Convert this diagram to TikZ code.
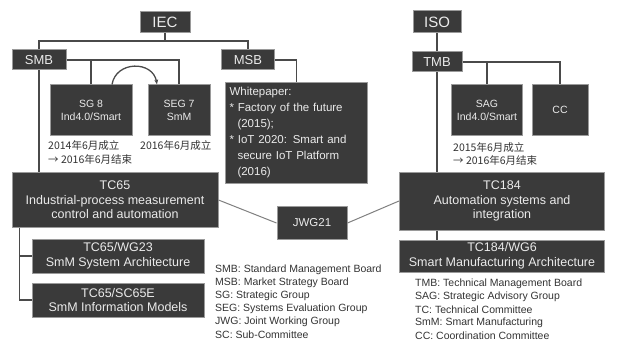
\documentclass[tikz,border=0pt]{standalone}
\usepackage{fontspec}
\setmainfont{Liberation Sans}
\newfontfamily\cjk{Noto Sans CJK SC}
\usetikzlibrary{arrows.meta}
\definecolor{boxfill}{HTML}{3A3A3A}
\definecolor{boxedge}{HTML}{9A9A9A}
\definecolor{linecol}{HTML}{4A4A4A}
\begin{document}
\begin{tikzpicture}[x=1pt,y=-1pt,
  dbox/.style={draw=boxedge, line width=1pt, fill=boxfill, text=white!92!black,
    inner sep=1pt, align=center, font=\fontsize{10.5}{13}\selectfont},
  tcbox/.style={dbox, font=\fontsize{12.5}{14.5}\selectfont},
  conn/.style={draw=linecol, line width=1.3pt},
  jconn/.style={draw=gray, line width=1pt},
  note/.style={anchor=west, inner sep=0pt, text=black!80, font=\fontsize{10.5}{12}\selectfont},
  cnote/.style={anchor=west, inner sep=0pt, text=black!80, font=\cjk\fontsize{10.5}{12}\selectfont}]
\useasboundingbox[fill=white] (0,0) rectangle (619,345);
% IEC side
\node[dbox, minimum width=50, minimum height=21, font=\fontsize{15}{15}\selectfont] (iec) at (165,22) {IEC};
\node[dbox, minimum width=54, minimum height=20, font=\fontsize{13}{13}\selectfont] (smb) at (39,60) {SMB};
\node[dbox, minimum width=53, minimum height=20, font=\fontsize{13}{13}\selectfont] (msb) at (248,60) {MSB};
\node[dbox, minimum width=82, minimum height=50] (sg8) at (91,110) {SG 8\\Ind4.0/Smart};
\node[dbox, minimum width=62, minimum height=50] (seg7) at (179,110) {SEG 7\\SmM};
\node[dbox, minimum width=142, minimum height=101, align=left, anchor=north west,
  text width=134, inner sep=4pt, font=\fontsize{11.5}{16}\selectfont] (wp) at (225,82)
  {Whitepaper:\\
   {*} Factory of the future\\
   \hspace*{8pt}(2015);\\
   {*} IoT 2020: Smart and\\
   \hspace*{8pt}secure IoT Platform\\
   \hspace*{8pt}(2016)};
\node[tcbox, minimum width=206, minimum height=55] (tc65) at (115,200)
  {TC65\\Industrial-process measurement\\control and automation};
\node[tcbox, minimum width=172, minimum height=34] (wg23) at (118,256)
  {TC65/WG23\\SmM System Architecture};
\node[tcbox, minimum width=172, minimum height=34] (sc65e) at (118,300)
  {TC65/SC65E\\SmM Information Models};
\node[dbox, minimum width=70, minimum height=33, font=\fontsize{11.5}{13}\selectfont] (jwg) at (312,223) {JWG21};
% ISO side
\node[dbox, minimum width=48, minimum height=22, font=\fontsize{15}{15}\selectfont] (iso) at (437,22) {ISO};
\node[dbox, minimum width=50, minimum height=20, font=\fontsize{13}{13}\selectfont] (tmb) at (437,62) {TMB};
\node[dbox, minimum width=71, minimum height=50] (sag) at (487,110) {SAG\\Ind4.0/Smart};
\node[dbox, minimum width=56, minimum height=50] (cc) at (560,110) {CC};
\node[tcbox, minimum width=205, minimum height=58] (tc184) at (502,201)
  {TC184\\Automation systems and\\integration};
\node[tcbox, minimum width=205, minimum height=32] (wg184) at (502,256)
  {TC184/WG6\\Smart Manufacturing Architecture};
% date notes
\node[cnote] (d1) at (48,146) {2014年6月成立};
\node[cnote] (d2) at (48,159) {→ 2016年6月结束};
\node[cnote] (d3) at (140,146) {2016年6月成立};
\node[cnote] (d4) at (453,148) {2015年6月成立};
\node[cnote] (d5) at (453,160) {→ 2016年6月结束};
% legends
\node[note] (l1) at (215,270) {SMB: Standard Management Board};
\node[note] (l2) at (215,283) {MSB: Market Strategy Board};
\node[note] (l3) at (215,296) {SG: Strategic Group};
\node[note] (l4) at (215,309) {SEG: Systems Evaluation Group};
\node[note] (l5) at (215,322) {JWG: Joint Working Group};
\node[note] (l6) at (215,335) {SC: Sub-Committee};
\node[note] (r1) at (415,284) {TMB: Technical Management Board};
\node[note] (r2) at (415,297) {SAG: Strategic Advisory Group};
\node[note] (r3) at (415,310) {TC: Technical Committee};
\node[note] (r4) at (415,323) {SmM: Smart Manufacturing};
\node[note] (r5) at (415,336) {CC: Coordination Committee};
% connectors IEC
\coordinate (ieclev) at (0,41);
\draw[conn] (iec.south) -- (iec.south |- ieclev);
\draw[conn] (smb.north) -- (smb.north |- ieclev) -- (msb.north |- ieclev) -- (msb.north);
\draw[conn] (smb.east) -| (seg7.north);
\draw[conn] (sg8.north) |- (smb.east);
\draw[conn] (msb.east) -| (wp.north);
\draw[conn] (smb.south) -- (smb.south |- tc65.north);
\draw[conn, -{Stealth[length=5pt]}] ([xshift=21pt]sg8.north) .. controls +(4,-24) and +(-4,-24) .. ([xshift=-22pt]seg7.north);
\coordinate (lb) at ([xshift=8pt]tc65.south west);
\draw[conn] (lb) |- (wg23.west);
\draw[conn] (lb) |- (sc65e.west);
\draw[jconn] (tc65.east) -- (jwg.west);
\draw[jconn] (jwg.east) -- (tc184.west);
% connectors ISO
\draw[conn] (iso.south) -- (tmb.north);
\draw[conn] (tmb.east) -| (cc.north);
\draw[conn] (sag.north) |- (tmb.east);
\draw[conn] (tmb.south) -- (tmb.south |- tc184.north);
\draw[conn] (tc184.south -| tmb.south) -- (wg184.north -| tmb.south);
\end{tikzpicture}
\end{document}
